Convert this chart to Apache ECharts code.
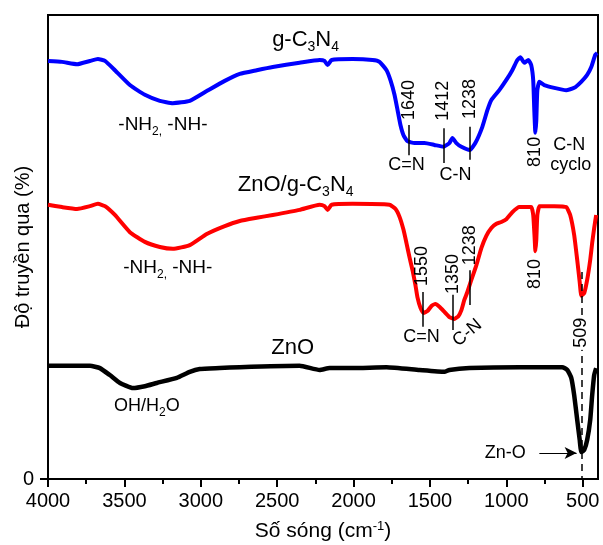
<!DOCTYPE html>
<html>
<head>
<meta charset="utf-8">
<script src="https://cdn.jsdelivr.net/npm/echarts@6/dist/echarts.min.js"></script>
<style>
  html, body { margin: 0; padding: 0; background: #fff; }
  #chart { width: 603px; height: 545px; }
</style>
</head>
<body>
<div id="chart"></div>
<script>
// FTIR spectra: wavenumber (cm-1) and transmittance (offset traces)
const gcnWave = [4000,3908,3810,3725,3673,3627,3562,3464,3366,3268,3183,3072,2961,2843,2745,2634,2529,2353,2222,2190,2170,2144,2007,1876,1830,1784,1758,1732,1712,1693,1673,1647,1601,1536,1471,1412,1373,1353,1327,1294,1240,1203,1157,1124,1098,1046,1000,961,928,908,882,856,837,824,817,810,804,797,784,752,686,608,556,510,471,444,418,405];
const gcnT    = [90.1,89.9,89.4,90.1,90.5,90.1,88.1,84.9,82.8,81.5,81.0,81.5,83.6,85.8,87.3,88.1,88.8,89.7,90.3,90.1,89.2,90.3,90.5,90.3,89.9,88.1,85.9,82.8,79.5,76.3,74.1,72.8,72.4,72.4,72.0,71.6,72.4,73.5,72.4,71.6,70.9,72.4,75.9,79.5,81.7,83.8,86.0,88.1,90.3,90.9,89.7,90.3,89.2,85.9,79.5,74.6,77.2,83.8,85.6,84.9,84.3,83.8,84.3,85.6,87.1,88.8,91.4,91.8];

const compWave = [4000,3908,3810,3725,3673,3627,3562,3464,3366,3268,3183,3072,2961,2843,2745,2634,2529,2353,2222,2190,2170,2144,2007,1765,1725,1699,1673,1654,1634,1614,1595,1582,1562,1542,1516,1490,1464,1438,1405,1373,1340,1314,1294,1275,1255,1229,1196,1163,1131,1098,1065,1033,1000,961,915,837,824,814,810,804,797,784,765,686,608,582,556,536,520,509,490,471,451,438,425,412];
const compT    = [59.1,58.6,58.2,58.8,59.3,58.8,56.9,53.2,51.1,50.0,49.6,50.4,52.8,54.5,55.6,56.3,56.9,58.0,59.1,58.8,58.0,59.1,59.3,59.1,58.2,56.5,53.7,50.9,47.8,45.0,41.8,39.2,36.9,35.8,36.2,37.3,37.7,37.1,36.0,34.9,34.5,35.1,36.4,38.6,40.3,42.9,46.1,49.8,52.4,54.1,55.0,55.4,56.0,57.5,58.6,58.6,56.9,51.5,49.1,51.5,56.9,58.8,58.8,58.8,58.6,56.9,52.6,47.2,42.5,39.5,40.1,42.9,47.2,50.9,54.1,56.9];

const znoWave = [4000,3725,3660,3595,3529,3444,3366,3288,3157,3072,3007,2876,2745,2353,2222,2157,2007,1784,1569,1405,1373,1242,915,634,601,575,556,536,520,509,490,471,451,438,425,412];
const znoT    = [24.4,24.4,23.9,22.4,20.7,19.6,20.0,20.7,21.8,23.1,23.7,23.9,24.1,24.4,23.5,23.9,23.9,24.1,23.5,23.1,23.5,23.9,24.1,24.1,23.5,21.8,18.1,12.7,8.5,5.8,6.3,8.4,12.7,18.1,22.4,23.9];

// Axis ticks
const xTickLabels = [4000, 3500, 3000, 2500, 2000, 1500, 1000, 500];
const xMinorTicks = [3750, 3250, 2750, 2250, 1750, 1250, 750];
const yTickLabels = [0];

// Band markers: wavenumber, label centre, tick segment (transmittance)
const gcnBands  = [1640, 1412, 1238];
const gcnBandLabelY = [81.7, 81.5, 81.9];
const gcnBandTick = [[76.3, 69.8], [75.6, 68.1], [75.9, 68.8]];
const compBands = [1550, 1350, 1238];
const compBandLabelY = [45.9, 44.2, 50.4];
const compBandTick = [[40.3, 32.8], [39.7, 32.1], [45.0, 37.5]];
const znoBand = 509;

const FONT = "'Liberation Sans', Arial, sans-serif";

const chart = echarts.init(document.getElementById('chart'), null, { renderer: 'canvas' });

function pairs(xs, ys) { return xs.map((x, i) => [x, ys[i]]); }

function tickSegments(bands, ticks) {
  return bands.map((b, i) => [{ coord: [b, ticks[i][0]] }, { coord: [b, ticks[i][1]] }]);
}

const thinLine = { color: '#000', width: 1.5, type: 'solid' };

chart.setOption({
  animation: false,
  grid: { left: 48, right: 5, top: 15, bottom: 66, containLabel: false, outerBoundsMode: 'none',
    show: true, borderColor: '#000', borderWidth: 2 },
  xAxis: [{
    type: 'value', min: 400, max: 4000, inverse: true,
    name: 'Số sóng (cm{sup|-1})', nameLocation: 'middle', nameGap: 41, nameMoveOverlap: false,
    nameTextStyle: { fontFamily: FONT, fontSize: 21, color: '#000',
      rich: { sup: { fontFamily: FONT, fontSize: 13, color: '#000', verticalAlign: 'top', padding: [0, 0, 10, 0] } } },
    axisLine: { show: true, lineStyle: { color: '#000', width: 2 } },
    axisTick: { show: true, length: 8, customValues: xTickLabels, lineStyle: { color: '#000', width: 2 } },
    axisLabel: { customValues: xTickLabels, margin: 12, fontFamily: FONT, fontSize: 20, color: '#000',
      formatter: v => String(v) },
    splitLine: { show: false }
  }, {
    type: 'value', min: 400, max: 4000, inverse: true, position: 'bottom',
    axisLine: { show: false },
    axisTick: { show: true, length: 5, customValues: xMinorTicks, lineStyle: { color: '#000', width: 2 } },
    axisLabel: { show: false },
    splitLine: { show: false }
  }],
  yAxis: {
    type: 'value', min: 0, max: 100,
    name: 'Độ truyền qua (%)', nameLocation: 'middle', nameGap: 15, nameMoveOverlap: false,
    nameTextStyle: { fontFamily: FONT, fontSize: 20, color: '#000' },
    axisLine: { show: true, lineStyle: { color: '#000', width: 2 } },
    axisTick: { show: true, length: 8, customValues: yTickLabels, lineStyle: { color: '#000', width: 2 } },
    axisLabel: { customValues: yTickLabels, margin: 14, fontFamily: FONT, fontSize: 20, color: '#000' },
    splitLine: { show: false }
  },
  series: [{
    name: 'g-C3N4', type: 'line', data: pairs(gcnWave, gcnT), showSymbol: false, smooth: 0.15,
    lineStyle: { color: '#0000ff', width: 4, join: 'round' }, itemStyle: { color: '#0000ff' },
    markLine: { silent: true, symbol: 'none', label: { show: false }, lineStyle: thinLine,
      data: tickSegments(gcnBands, gcnBandTick) }
  }, {
    name: 'ZnO/g-C3N4', type: 'line', data: pairs(compWave, compT), showSymbol: false, smooth: 0.15,
    lineStyle: { color: '#ff0000', width: 4, join: 'round' }, itemStyle: { color: '#ff0000' },
    markLine: { silent: true, symbol: 'none', label: { show: false }, lineStyle: thinLine,
      data: tickSegments(compBands, compBandTick).concat([
        [{ coord: [znoBand, 44.6], lineStyle: { type: [7, 5], width: 1.5, color: '#000' } }, { coord: [znoBand, 0] }]
      ]) }
  }, {
    name: 'ZnO', type: 'line', data: pairs(znoWave, znoT), showSymbol: false, smooth: 0.15,
    lineStyle: { color: '#000', width: 4.5, join: 'round' }, itemStyle: { color: '#000' },
    markLine: { silent: true, label: { show: false }, lineStyle: { color: '#000', width: 1, type: 'solid' },
      symbolSize: [9, 12],
      data: [[{ coord: [784, 5.6], symbol: 'none' }, { coord: [540, 5.6], symbol: 'arrow' }]] }
  }]
});

// Text annotations anchored in data coordinates
const sub = (size) => ({ fontFamily: FONT, fontSize: size, color: '#000', padding: [Math.round(size * 1.1), 0, 0, 0] });
const notes = [
  { t: 'g-C{s|3}N{s|4}', x: 2314, y: 94.6, size: 22 },
  { t: '-NH{s|2,} -NH-', x: 3248, y: 76.3, size: 19 },
  { t: 'C=N', x: 1654, y: 67.7, size: 18 },
  { t: 'C-N', x: 1333, y: 65.5, size: 18 },
  { t: 'C-N', x: 588, y: 72.0, size: 18 },
  { t: 'cyclo', x: 578, y: 67.7, size: 18 },
  { t: '810', x: 810, y: 70.5, size: 18, rot: 90 },
  { t: 'ZnO/g-C{s|3}N{s|4}', x: 2379, y: 63.4, size: 22 },
  { t: '-NH{s|2,} -NH-', x: 3216, y: 45.5, size: 19 },
  { t: 'C=N', x: 1556, y: 30.6, size: 18 },
  { t: 'C-N', x: 1255, y: 31.5, size: 18, rot: 40 },
  { t: '810', x: 810, y: 44.2, size: 18, rot: 90 },
  { t: '509', x: znoBand, y: 31.5, size: 18, rot: 90, bg: true },
  { t: 'ZnO', x: 2399, y: 28.2, size: 22 },
  { t: 'OH/H{s|2}O', x: 3353, y: 15.7, size: 18 },
  { t: 'Zn-O', x: 1007, y: 5.6, size: 18 }
];
gcnBands.forEach((b, i) => notes.push({ t: String(b), x: b, y: gcnBandLabelY[i], size: 18, rot: 90 }));
compBands.forEach((b, i) => notes.push({ t: String(b), x: b, y: compBandLabelY[i], size: 18, rot: 90 }));

const graphics = notes.map(n => {
  const p = chart.convertToPixel({ gridIndex: 0 }, [n.x, n.y]);
  return {
    type: 'text', x: p[0], y: p[1], rotation: (n.rot || 0) * Math.PI / 180, z: 100,
    style: {
      text: n.t, fontFamily: FONT, fontSize: n.size, fill: '#000',
      align: 'center', verticalAlign: 'middle',
      backgroundColor: n.bg ? '#fff' : undefined, padding: n.bg ? [0, 2, 0, 2] : 0,
      rich: { s: sub(Math.round(n.size * 0.65)) }
    }
  };
});
chart.setOption({ graphic: graphics });
</script>
</body>
</html>
